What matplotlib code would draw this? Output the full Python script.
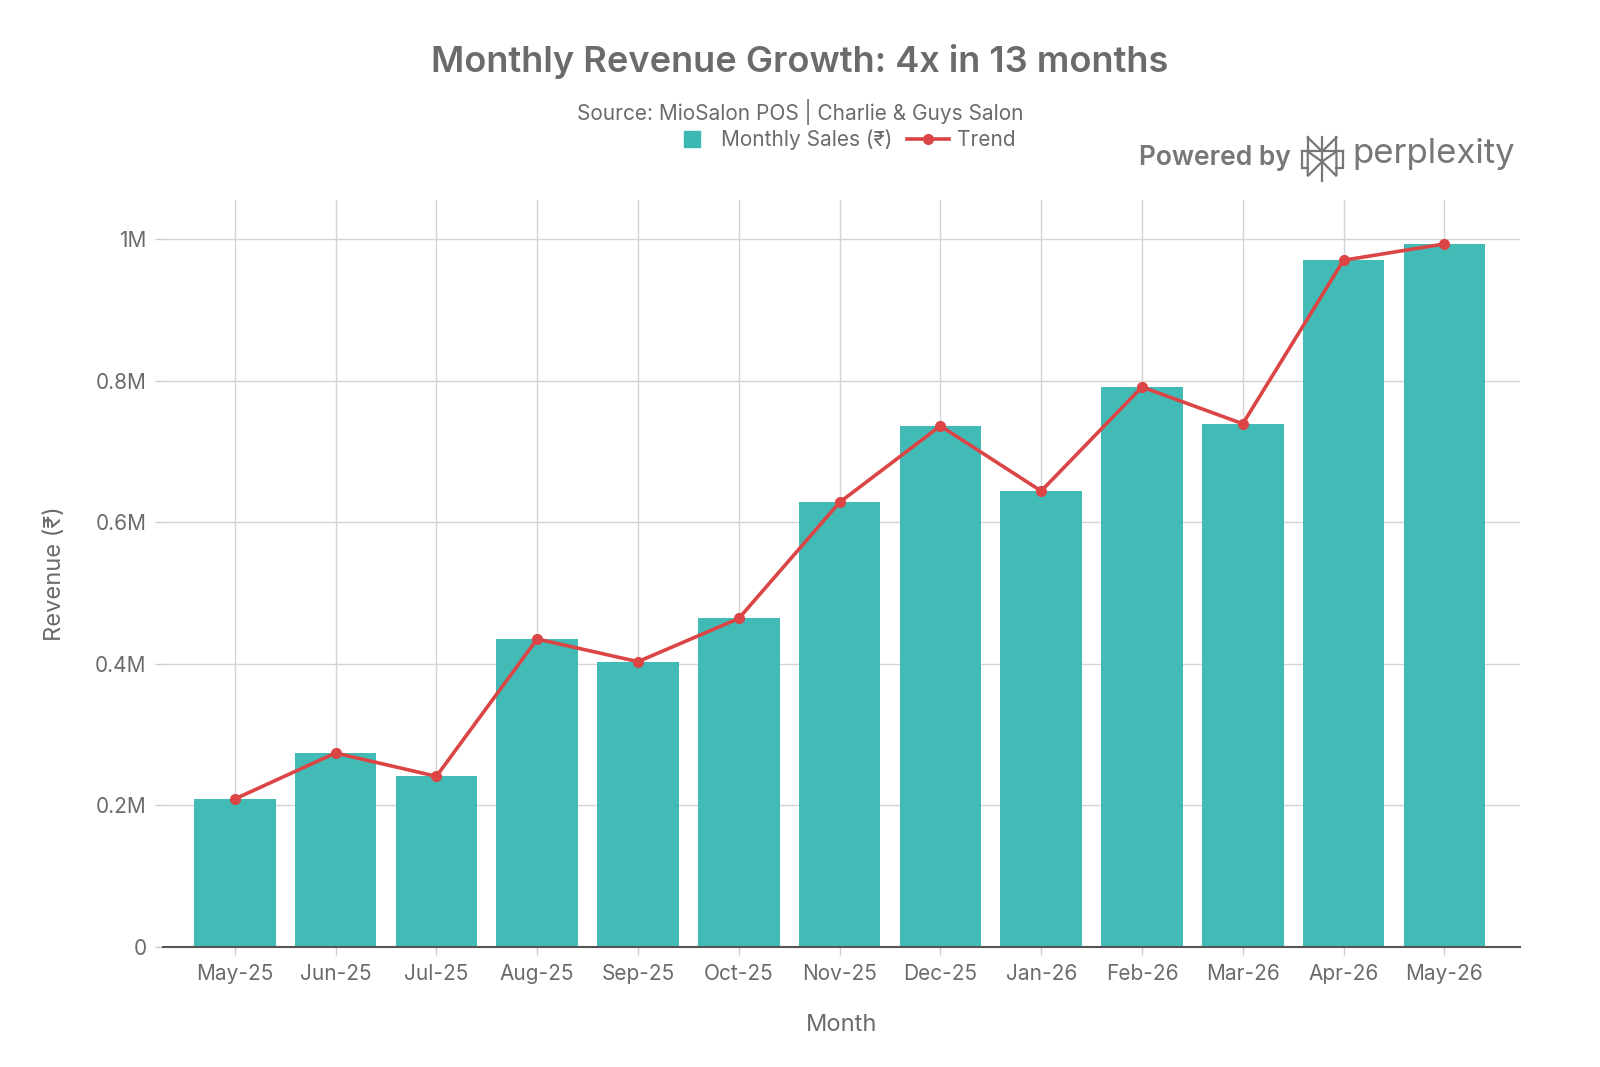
import matplotlib.pyplot as plt
import numpy as np
from matplotlib.lines import Line2D

months = ['May-25', 'Jun-25', 'Jul-25', 'Aug-25', 'Sep-25', 'Oct-25', 'Nov-25',
          'Dec-25', 'Jan-26', 'Feb-26', 'Mar-26', 'Apr-26', 'May-26']
sales = [209000, 274000, 241000, 435000, 403000, 464000, 628000,
         736000, 644000, 791000, 739000, 970000, 993000]
y_ticks = [0, 200000, 400000, 600000, 800000, 1000000]
y_tick_labels = ['0', '0.2M', '0.4M', '0.6M', '0.8M', '1M']

BAR = '#3CB9B4'
LINE = '#DB4545'
TXT = '#6b6b6b'
LOGO = '#777777'

plt.rcParams['font.family'] = ['Inter', 'DejaVu Sans']

def draw_logo(fig, x0, y0, w, h):
    # rough line sketch of the perplexity mark
    segs = [
        [(0.5, 0.0), (0.5, 1.0)],
        [(0.0, 0.68), (1.0, 0.68)],
        [(0.15, 1.0), (0.5, 0.68), (0.85, 1.0)],
        [(0.15, 1.0), (0.15, 0.68)],
        [(0.85, 1.0), (0.85, 0.68)],
        [(0.0, 0.68), (0.0, 0.3), (0.15, 0.3)],
        [(1.0, 0.68), (1.0, 0.3), (0.85, 0.3)],
        [(0.15, 0.68), (0.15, 0.12), (0.5, 0.45)],
        [(0.85, 0.68), (0.85, 0.12), (0.5, 0.45)],
        [(0.15, 0.68), (0.5, 0.45), (0.85, 0.68)],
    ]
    for s in segs:
        xs = [x0 + u * w for u, v in s]
        ys = [y0 + v * h for u, v in s]
        fig.add_artist(Line2D(xs, ys, transform=fig.transFigure, color=LOGO,
                              linewidth=1.6, solid_joinstyle='miter'))

def plot_revenue():
    fig = plt.figure(figsize=(16, 10.67), dpi=100)
    ax = fig.add_axes([0.102, 0.1125, 0.848, 0.70])
    x = np.arange(len(months))

    ax.grid(True, color='#d4d4d4', linewidth=1, zorder=0)
    ax.set_axisbelow(True)
    ax.bar(x, sales, width=0.81, color=BAR, alpha=0.97, zorder=2)
    ax.plot(x, sales, color=LINE, linewidth=2.6, marker='o', markersize=7, zorder=3)

    ax.set_xlim(-0.71, len(months) - 0.25)
    ax.set_ylim(0, 1055000)
    ax.set_xticks(x)
    ax.set_xticklabels(months)
    ax.set_yticks(y_ticks)
    ax.set_yticklabels(y_tick_labels)

    for s in ['top', 'right', 'left']:
        ax.spines[s].set_visible(False)
    ax.spines['bottom'].set_color('#555555')
    ax.spines['bottom'].set_linewidth(1.5)
    ax.tick_params(axis='both', colors='#cccccc', labelcolor=TXT, labelsize=15,
                   length=6, width=1, pad=6)

    ax.set_xlabel('Month', fontsize=17, color=TXT, labelpad=22)
    ax.set_ylabel('Revenue (₹)', fontsize=17, color=TXT, labelpad=21)

    fig.text(0.5, 0.942, 'Monthly Revenue Growth: 4x in 13 months', ha='center',
             va='center', fontsize=26, fontweight='semibold', color=TXT)
    fig.text(0.5, 0.895, 'Source: MioSalon POS | Charlie & Guys Salon', ha='center',
             va='center', fontsize=15, color=TXT)

    h_bar = Line2D([], [], linestyle='none', marker='s', markersize=12, color=BAR)
    h_line = Line2D([], [], color=LINE, linewidth=2.6, marker='o', markersize=7)
    leg = fig.legend(handles=[h_bar, h_line], labels=['Monthly Sales (₹)', 'Trend'],
                     loc='center', bbox_to_anchor=(0.527, 0.869), ncol=2,
                     frameon=False, fontsize=15, handlelength=2.0,
                     columnspacing=0.7, handletextpad=0.4)
    for t in leg.get_texts():
        t.set_color(TXT)

    fig.text(0.807, 0.852, 'Powered by', ha='right', va='center', fontsize=19,
             fontweight='semibold', color=LOGO)
    draw_logo(fig, 0.8135, 0.830, 41 / 1600, 44 / 1067)
    fig.text(0.845, 0.856, 'perplexity', ha='left', va='center', fontsize=25,
             color=LOGO)

    fig.savefig('out.png', dpi=100)

if __name__ == "__main__":
    plot_revenue()
